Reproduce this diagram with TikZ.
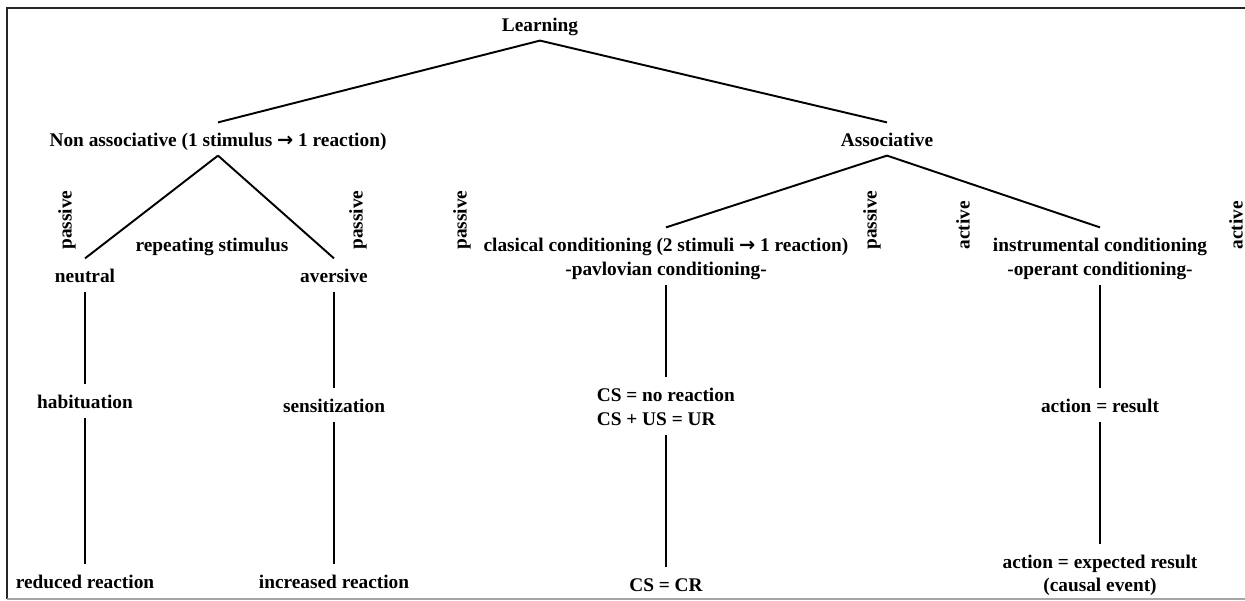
\documentclass[tikz,border=0pt]{standalone}
\usepackage{fontspec}
\setmainfont{Liberation Serif}
\newfontfamily\arrowfont{DejaVu Sans}
\usepackage{xcolor}

\newcommand{\toarrow}{{\arrowfont\bfseries →}}

\tikzset{
    txt/.style={font=\fontsize{11}{13}\selectfont\bfseries,inner xsep=2pt,inner ysep=0pt,text height=13.6pt,text depth=4.9pt},
    side/.style={font=\fontsize{11}{13}\selectfont\bfseries,rotate=90,inner sep=0pt},
    branch/.style={line width=1.1pt}
}

\begin{document}
\begin{tikzpicture}[x=0.02cm,y=-0.02cm]

        % Background and frame
        \useasboundingbox (0,0) rectangle (1245,601);
        \draw[draw=none,fill=white] (0,0) rectangle (1245,601);
        \draw[line width=1.4pt,black!85] (7,599) -- (7,8) -- (1245,8);
        \draw[line width=0.6pt,gray!70] (7,599) -- (1245,599);

        % Top levels
        \node[txt] (learn) at (540,24) {Learning};
        \node[txt] (nonassoc) at (218,139) {Non associative (1 stimulus \toarrow{} 1 reaction)};
        \node[txt] (assoc) at (887,139) {Associative};

        % Non associative branch
        \node[txt] (rep) at (212,244) {repeating stimulus};
        \node[txt] (neutral) at (85,275) {neutral};
        \node[txt] (aversive) at (334,275) {aversive};
        \node[txt] (habit) at (85,401) {habituation};
        \node[txt] (sensit) at (334,405) {sensitization};
        \node[txt] (reduced) at (85,581) {reduced reaction};
        \node[txt] (increased) at (334,581) {increased reaction};

        % Associative branch
        \node[txt] (clas) at (666,244) {clasical conditioning (2 stimuli \toarrow{} 1 reaction)};
        \node[txt] (pavl) at (666,268) {-pavlovian conditioning-};
        \node[txt,anchor=west] (csA) at (593,394) {CS = no reaction};
        \node[txt,anchor=west] (csB) at (593,418) {CS + US = UR};
        \node[txt] (cscr) at (666,584) {CS = CR};
        \node[txt] (instr) at (1100,244) {instrumental conditioning};
        \node[txt] (oper) at (1100,268) {-operant conditioning-};
        \node[txt] (actres) at (1100,405) {action = result};
        \node[txt] (expres) at (1100,561) {action = expected result};
        \node[txt] (causal) at (1100,584) {(causal event)};

        % Side labels
        \foreach \i/\x/\word in {1/67/passive,2/358/passive,3/462/passive,4/872/passive,5/963/active,6/1236/active} {
            \node[side,anchor=west] (side\i) at (\x,250) {\word};
        }

        % Tree
        \draw[branch] (learn.south) -- (nonassoc.north);
        \draw[branch] (learn.south) -- (assoc.north);
        \draw[branch] (nonassoc.south) -- (neutral.north);
        \draw[branch] (nonassoc.south) -- (aversive.north);
        \draw[branch] (neutral.south) -- (habit.north);
        \draw[branch] (habit.south) -- (reduced.north);
        \draw[branch] (aversive.south) -- (sensit.north);
        \draw[branch] (sensit.south) -- (increased.north);
        \draw[branch] (assoc.south) -- (clas.north);
        \draw[branch] (assoc.south) -- (instr.north);
        \draw[branch] (pavl.south) -- (pavl.south |- csA.north);
        \draw[branch] (cscr.north) -- (cscr.north |- csB.south);
        \draw[branch] (oper.south) -- (actres.north);
        \draw[branch] (actres.south) -- (expres.north);

\end{tikzpicture}
\end{document}
